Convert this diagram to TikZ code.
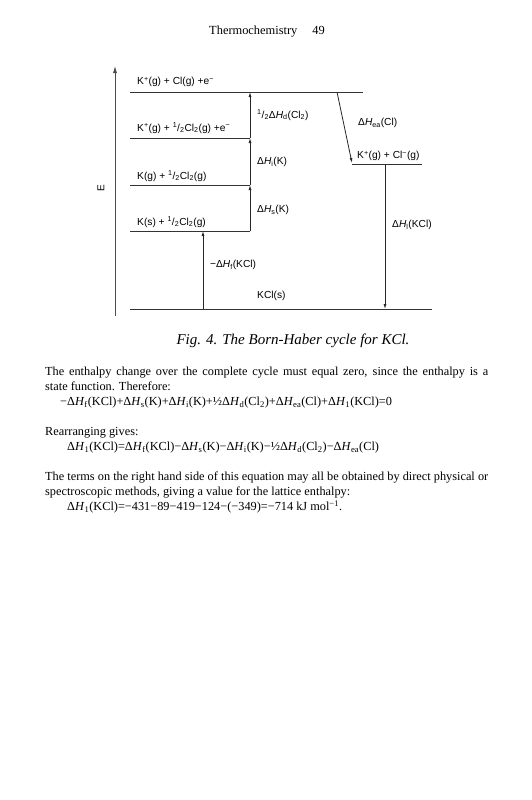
\documentclass[tikz,border=0pt]{standalone}
\usepackage{fontspec}
\setmainfont{Liberation Serif}
\newfontfamily\diagfont{Liberation Sans}
\usetikzlibrary{arrows.meta,positioning}
\newcommand{\half}{\textsuperscript{1}/\textsubscript{2}}
\newcommand{\dH}[1]{Δ\textit{H}\textsubscript{#1}}

\begin{document}
\begin{tikzpicture}[
  x=1pt,y=-1pt,
  level/.style={draw=black!80,line width=0.9pt},
  jump/.style={-{Latex[length=5pt,width=3pt]},draw=black!85,line width=0.8pt},
  species/.style={font=\diagfont\fontsize{10.2}{12}\selectfont,anchor=west,inner sep=0pt},
  change/.style={font=\diagfont\fontsize{10.2}{12}\selectfont,anchor=west,inner sep=0pt},
  bodytext/.style={font=\fontsize{12.3}{15}\selectfont,anchor=north west,inner sep=0pt,text width=443pt,align=justify}
]
  \useasboundingbox (0,0) rectangle (531,800);

  % page head
  \node[font=\fontsize{12.4}{14}\selectfont] (head) at (267,32) {Thermochemistry\hspace{15pt}49};

  % energy axis
  \coordinate (ebot) at (115,316);
  \coordinate (etop) at (115,66);
  \draw[jump,-{Latex[length=7pt,width=4pt]},draw=black!70] (ebot) -- (etop);
  \node[font=\diagfont\fontsize{10}{11}\selectfont,rotate=90] (elabel) at (101,188) {E};

  % levels
  \coordinate (a1) at (130,92);  \coordinate (a2) at (363,92);
  \coordinate (b1) at (130,138); \coordinate (b2) at (250,138);
  \coordinate (c1) at (130,185); \coordinate (c2) at (250,185);
  \coordinate (d1) at (130,231); \coordinate (d2) at (250,231);
  \coordinate (f1) at (130,309); \coordinate (f2) at (432,309);
  \coordinate (g1) at (352,164); \coordinate (g2) at (422,164);
  \draw[level] (a1) -- (a2);
  \draw[level] (b1) -- (b2);
  \draw[level] (c1) -- (c2);
  \draw[level] (d1) -- (d2);
  \draw[level] (f1) -- (f2);
  \draw[level] (g1) -- (g2);

  \node[species] (atoms) at (137,82) {K\textsuperscript{+}(g) + Cl(g) +e\textsuperscript{−}};
  \node[species] (ionk) at (137,128) {K\textsuperscript{+}(g) + \half Cl\textsubscript{2}(g) +e\textsuperscript{−}};
  \node[species] (gask) at (137,176) {K(g) + \half Cl\textsubscript{2}(g)};
  \node[species] (elem) at (137,222) {K(s) + \half Cl\textsubscript{2}(g)};
  \node[species] (ions) at (357,156) {K\textsuperscript{+}(g) + Cl\textsuperscript{−}(g)};
  \node[species] (salt) at (257,296) {KCl(s)};

  % steps of the cycle
  \coordinate (form0) at (203,309); \coordinate (form1) at (203,231);
  \coordinate (ea0) at (337,92);    \coordinate (ea1) at (352,163);
  \coordinate (lat0) at (385,164);  \coordinate (lat1) at (385,309);
  \draw[jump] (form0) -- (form1);
  \draw[jump] (d2) -- (c2);
  \draw[jump] (c2) -- (b2);
  \draw[jump] (b2) -- (250,92);
  \draw[jump] (ea0) -- (ea1);
  \draw[jump] (lat0) -- (lat1);

  \node[change] (hd) at (257,115) {\half\dH{d}(Cl\textsubscript{2})};
  \node[change] (hi) at (257,162) {\dH{i}(K)};
  \node[change] (hs) at (257,210) {\dH{s}(K)};
  \node[change] (hf) at (210,265) {−\dH{f}(KCl)};
  \node[change] (hea) at (358,123) {\dH{ea}(Cl)};
  \node[change] (hl) at (392,225) {\dH{l}(KCl)};

  % caption and text
  \node[font=\fontsize{15}{16}\selectfont\itshape] (caption) at (293,341) {Fig. 4. The Born-Haber cycle for KCl.};

  \node[bodytext] (para) at (45,367) {The enthalpy change over the complete cycle must equal zero, since the enthalpy is a\linebreak state function. Therefore:\par
  \hspace*{15pt}−\dH{f}(KCl)+\dH{s}(K)+\dH{i}(K)+½\dH{d}(Cl\textsubscript{2})+\dH{ea}(Cl)+\dH{1}(KCl)=0\par
  \vspace{15pt}
  Rearranging gives:\par
  \hspace*{22pt}\dH{1}(KCl)=\dH{f}(KCl)−\dH{s}(K)−\dH{i}(K)−½\dH{d}(Cl\textsubscript{2})−\dH{ea}(Cl)\par
  \vspace{15pt}
  The terms on the right hand side of this equation may all be obtained by direct physical or\linebreak spectroscopic methods, giving a value for the lattice enthalpy:\par
  \hspace*{22pt}\dH{1}(KCl)=−431−89−419−124−(−349)=−714 kJ mol\textsuperscript{−1}.};
\end{tikzpicture}
\end{document}
